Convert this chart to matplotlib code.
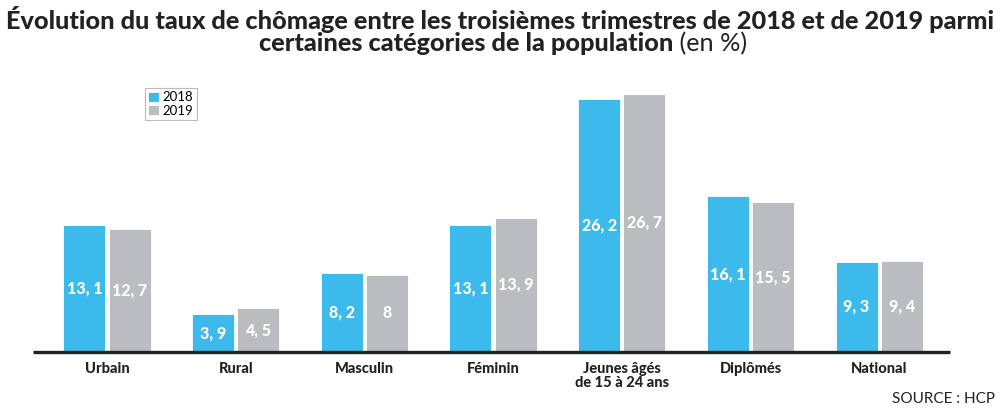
import numpy as np
import matplotlib.pyplot as plt

# data
categories = ['Urbain', 'Rural', 'Masculin', 'Féminin', 'Jeunes âgés\nde 15 à 24 ans', 'Diplômés', 'National']
taux_2018 = [13.1, 3.9, 8.2, 13.1, 26.2, 16.1, 9.3]
taux_2019 = [12.7, 4.5, 8.0, 13.9, 26.7, 15.5, 9.4]

blue = '#3dbaec'
grey = '#bbbcc0'

def fmt(v):
    s = ('%g' % v)
    return s.replace('.', ', ')

fig = plt.figure(figsize=(10, 4.13), dpi=100)
ax = fig.add_axes([0.033, 0.148, 0.917, 0.655])

x = np.arange(len(categories))
w = 0.326
off = 0.176
b1 = ax.bar(x - off, taux_2018, w, color=blue, edgecolor='white', linewidth=0.6, label='2018')
b2 = ax.bar(x + off, taux_2019, w, color=grey, edgecolor='white', linewidth=0.6, label='2019')

for bars, vals in [(b1, taux_2018), (b2, taux_2019)]:
    for r, v in zip(bars, vals):
        ax.text(r.get_x() + r.get_width() / 2, v / 2, fmt(v), ha='center', va='center',
                color='white', fontsize=11.5, fontweight='black', family='Lato')

ax.set_xlim(-0.575, 6.55)
ax.set_ylim(0, 28)
ax.axis('off')
ax.plot([-0.575, 6.55], [0, 0], color='#222222', lw=2.4, clip_on=False, solid_capstyle='butt')

for xi, c in zip(x, categories):
    ax.text(xi, -1.05, c, ha='center', va='top', fontsize=10.5, fontweight='black',
            family='Lato', color='#222222', linespacing=1.0)

# title, sized to fill the width
t1 = fig.text(0.5, 0.985, 'Évolution du taux de chômage entre les troisièmes trimestres de 2018 et de 2019 parmi',
              ha='center', va='top', fontsize=16, fontweight='black', family='Lato', color='#222222')
r = fig.canvas.get_renderer()
fs = 16 * 988 / t1.get_window_extent(r).width
t1.set_fontsize(fs)
t2a = fig.text(0, 0.922, 'certaines catégories de la population', ha='left', va='top', fontsize=fs,
               fontweight='black', family='Lato', color='#222222')
t2b = fig.text(0, 0.922, ' (en %)', ha='left', va='top', fontsize=fs, family='Lato',
               fontweight='normal', color='#222222')
wa = t2a.get_window_extent(r).width
wb = t2b.get_window_extent(r).width
x0 = (1000 - wa - wb) / 2 + 3
t2a.set_x(x0 / 1000)
t2b.set_x((x0 + wa) / 1000)

leg = ax.legend(loc='upper left', bbox_to_anchor=(0.115, 1.0), frameon=True, fancybox=False,
                handlelength=0.8, handleheight=0.8, handletextpad=0.3, borderpad=0.25,
                labelspacing=0.1, prop={'family': 'Lato', 'size': 9.5})
leg.get_frame().set_edgecolor('#aaaaaa')
leg.get_frame().set_linewidth(0.8)

fig.text(0.995, 0.018, 'SOURCE : HCP', ha='right', va='bottom', fontsize=11, family='Lato',
         fontweight='normal', color='#222222')

fig.savefig('out.png', dpi=100)
